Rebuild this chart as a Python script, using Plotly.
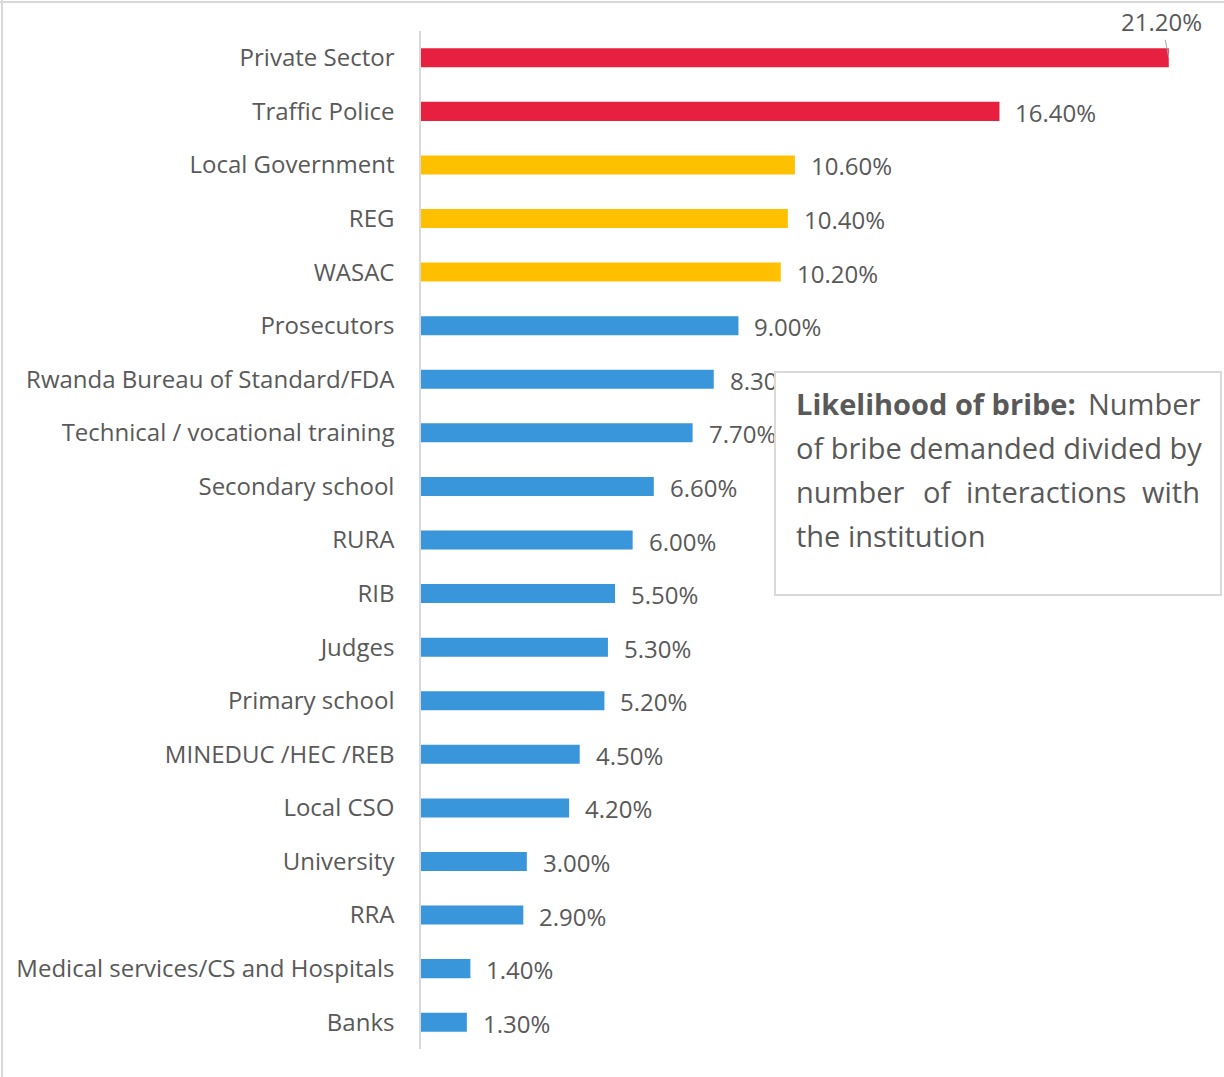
import plotly.graph_objects as go

categories = ["Private Sector", "Traffic Police", "Local Government", "REG", "WASAC",
              "Prosecutors", "Rwanda Bureau of Standard/FDA", "Technical / vocational training",
              "Secondary school", "RURA", "RIB", "Judges", "Primary school",
              "MINEDUC /HEC /REB", "Local CSO", "University", "RRA",
              "Medical services/CS and Hospitals", "Banks"]
values = [21.2, 16.4, 10.6, 10.4, 10.2, 9.0, 8.3, 7.7, 6.6, 6.0, 5.5, 5.3, 5.2,
          4.5, 4.2, 3.0, 2.9, 1.4, 1.3]
labels = ["21.20%", "16.40%", "10.60%", "10.40%", "10.20%", "9.00%", "8.30%", "7.70%",
          "6.60%", "6.00%", "5.50%", "5.30%", "5.20%", "4.50%", "4.20%", "3.00%",
          "2.90%", "1.40%", "1.30%"]
groups = ["high"] * 2 + ["mid"] * 3 + ["low"] * 14

RED, YELLOW, BLUE = "#E8203F", "#FFC000", "#3A96DB"
cmap = {"high": RED, "mid": YELLOW, "low": BLUE}
TXT = "#595959"
GRID = "#D9D9D9"
FONT = "Open Sans"

W, H = 1224, 1077
ML, MR, MT, MB = 421, 27, 31, 28
PW, PH = W - ML - MR, H - MT - MB

def px(x):
    return (x - ML) / PW

def py(y):
    return 1 - (y - MT) / PH

fig = go.Figure(go.Bar(
    x=values, y=categories, orientation="h",
    marker=dict(color=[cmap[g] for g in groups], line=dict(width=0)),
    hoverinfo="skip",
))

ann = []
for c, v, t in zip(categories, values, labels):
    if c == "Private Sector":
        ann.append(dict(x=v, y=c, xref="x", yref="y", text=t, showarrow=True,
                        arrowhead=0, arrowwidth=1, arrowcolor="#A6A6A6",
                        ax=-7, ay=-36, font=dict(family=FONT, size=24, color=TXT)))
    else:
        ann.append(dict(x=v, y=c, xref="x", yref="y", text=t, showarrow=False,
                        xanchor="left", yanchor="middle", xshift=14, yshift=-1,
                        font=dict(family=FONT, size=24, color=TXT)))

shapes = [
    # outer frame (top and left)
    dict(type="line", xref="paper", yref="paper", x0=px(0), x1=px(W), y0=py(2), y1=py(2),
         line=dict(color=GRID, width=2)),
    dict(type="line", xref="paper", yref="paper", x0=px(2), x1=px(2), y0=py(0), y1=py(H),
         line=dict(color=GRID, width=2)),
]

# definition text box (drawn as an annotation so it covers the labels beneath it)
ann.append(dict(x=px(774), y=py(371), xref="paper", yref="paper", text="",
                showarrow=False, xanchor="left", yanchor="top",
                width=444, height=221, borderpad=0, borderwidth=2,
                bordercolor=GRID, bgcolor="white"))

# justified box text: (text, x px, anchor)
box_rows = [
    [("<b>Likelihood of bribe:</b>", 794, "left"), ("Number", 1202, "right")],
    [("of bribe demanded divided by", 794, "left")],
    [("number", 794, "left"), ("of", 921, "left"), ("interactions", 964, "left"),
     ("with", 1202, "right")],
    [("the institution", 794, "left")],
]
for i, row in enumerate(box_rows):
    for txt, xx, anc in row:
        ann.append(dict(x=px(xx), y=py(403 + 44 * i), xref="paper", yref="paper",
                        text=txt, showarrow=False, xanchor=anc, yanchor="middle",
                        font=dict(family=FONT, size=29, color=TXT)))

fig.update_layout(
    width=W, height=H,
    margin=dict(l=ML, r=MR, t=MT, b=MB, autoexpand=False),
    paper_bgcolor="white", plot_bgcolor="white",
    bargap=0.645, showlegend=False,
    xaxis=dict(range=[0, 22], visible=False, fixedrange=True),
    yaxis=dict(categoryorder="array", categoryarray=categories, autorange="reversed",
               showline=True, linecolor=GRID, linewidth=1.5, showgrid=False,
               ticks="", ticklabelstandoff=20,
               tickfont=dict(family=FONT, size=24, color=TXT), fixedrange=True),
    annotations=ann, shapes=shapes,
)

fig.write_html("out.html", config={"displayModeBar": False},
               post_script="document.body.style.margin='0';document.body.style.overflow='hidden';")
